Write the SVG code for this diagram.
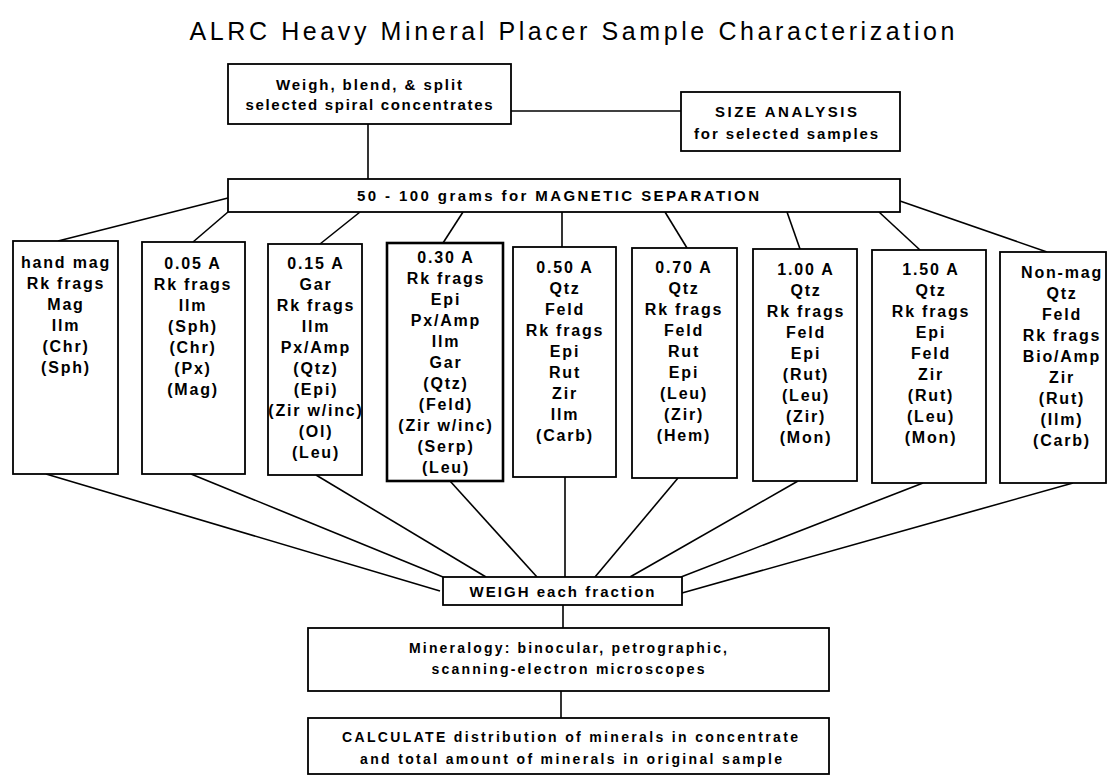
<svg xmlns="http://www.w3.org/2000/svg" width="1107" height="775" viewBox="0 0 1107 775">
<style>
.bx{fill:#fff;stroke:#000;stroke-width:1.8}
.bold{stroke-width:2.6}
.ln{stroke:#000;stroke-width:1.6;fill:none}
text{font-family:"Liberation Sans",Arial,Helvetica,sans-serif;font-weight:bold;fill:#000;text-anchor:middle}
.t{font-size:15px}
.s{font-size:14px}
.f{font-size:16px;letter-spacing:1.8px}
.title{font-size:25px;font-weight:normal}
</style>
<rect width="1107" height="775" fill="#fff"/>
<text class="title" x="572" y="40" textLength="765" lengthAdjust="spacing">ALRC Heavy Mineral Placer Sample Characterization</text>

<g id="connectors">
<line class="ln" x1="511" y1="111" x2="681" y2="111"/>
<line class="ln" x1="368" y1="124" x2="368" y2="179"/>
<line class="ln" x1="228" y1="198" x2="58" y2="241"/>
<line class="ln" x1="228" y1="212" x2="193" y2="242"/>
<line class="ln" x1="360" y1="212" x2="320" y2="244"/>
<line class="ln" x1="463" y1="212" x2="443" y2="243"/>
<line class="ln" x1="562" y1="212" x2="562" y2="247"/>
<line class="ln" x1="665" y1="212" x2="687" y2="248"/>
<line class="ln" x1="787" y1="212" x2="800" y2="249"/>
<line class="ln" x1="879" y1="212" x2="920" y2="250"/>
<line class="ln" x1="900" y1="201" x2="1047" y2="252"/>
<line class="ln" x1="46" y1="474" x2="440" y2="591"/>
<line class="ln" x1="191" y1="474" x2="443" y2="577"/>
<line class="ln" x1="316" y1="475" x2="486" y2="577"/>
<line class="ln" x1="450" y1="481" x2="537" y2="577"/>
<line class="ln" x1="565" y1="477" x2="565" y2="577"/>
<line class="ln" x1="678" y1="478" x2="595" y2="577"/>
<line class="ln" x1="798" y1="481" x2="630" y2="577"/>
<line class="ln" x1="923" y1="483" x2="681" y2="577"/>
<line class="ln" x1="1073" y1="483" x2="682" y2="593"/>
<line class="ln" x1="563" y1="605" x2="563" y2="628"/>
<line class="ln" x1="561" y1="691" x2="561" y2="718"/>
</g>

<g id="weigh-blend">
<rect class="bx" x="228" y="64" width="283" height="60"/>
<text class="t" x="369" y="90" textLength="186" lengthAdjust="spacing">Weigh, blend, &amp; split</text>
<text class="t" x="369" y="110" textLength="247" lengthAdjust="spacing">selected spiral concentrates</text>
</g>

<g id="size-analysis">
<rect class="bx" x="681" y="92" width="219" height="59"/>
<text class="t" x="786" y="117" textLength="142" lengthAdjust="spacing">SIZE ANALYSIS</text>
<text class="t" x="786" y="139" textLength="184" lengthAdjust="spacing">for selected samples</text>
</g>

<g id="magnetic-separation">
<rect class="bx" x="228" y="179" width="672" height="33"/>
<text class="t" x="558" y="201" textLength="402" lengthAdjust="spacing">50 - 100 grams for MAGNETIC SEPARATION</text>
</g>

<g id="hand-mag">
<rect class="bx" x="13" y="241" width="105" height="233"/>
<text class="f" x="66" y="268"><tspan x="66">hand mag</tspan><tspan x="66" dy="21">Rk frags</tspan><tspan x="66" dy="21">Mag</tspan><tspan x="66" dy="21">Ilm</tspan><tspan x="66" dy="21">(Chr)</tspan><tspan x="66" dy="21">(Sph)</tspan></text>
</g>

<g id="a005">
<rect class="bx" x="142" y="242" width="103" height="232"/>
<text class="f" x="193" y="269"><tspan x="193">0.05 A</tspan><tspan x="193" dy="21">Rk frags</tspan><tspan x="193" dy="21">Ilm</tspan><tspan x="193" dy="21">(Sph)</tspan><tspan x="193" dy="21">(Chr)</tspan><tspan x="193" dy="21">(Px)</tspan><tspan x="193" dy="21">(Mag)</tspan></text>
</g>

<g id="a015">
<rect class="bx" x="268" y="244" width="94" height="231"/>
<text class="f" x="316" y="269"><tspan x="316">0.15 A</tspan><tspan x="316" dy="21">Gar</tspan><tspan x="316" dy="21">Rk frags</tspan><tspan x="316" dy="21">Ilm</tspan><tspan x="316" dy="21">Px/Amp</tspan><tspan x="316" dy="21">(Qtz)</tspan><tspan x="316" dy="21">(Epi)</tspan><tspan x="316" dy="21">(Zir w/inc)</tspan><tspan x="316" dy="21">(Ol)</tspan><tspan x="316" dy="21">(Leu)</tspan></text>
</g>

<g id="a030">
<rect class="bx bold" x="387" y="243" width="116" height="238"/>
<text class="f" x="446" y="263"><tspan x="446">0.30 A</tspan><tspan x="446" dy="21">Rk frags</tspan><tspan x="446" dy="21">Epi</tspan><tspan x="446" dy="21">Px/Amp</tspan><tspan x="446" dy="21">Ilm</tspan><tspan x="446" dy="21">Gar</tspan><tspan x="446" dy="21">(Qtz)</tspan><tspan x="446" dy="21">(Feld)</tspan><tspan x="446" dy="21">(Zir w/inc)</tspan><tspan x="446" dy="21">(Serp)</tspan><tspan x="446" dy="21">(Leu)</tspan></text>
</g>

<g id="a050">
<rect class="bx" x="513" y="247" width="103" height="230"/>
<text class="f" x="565" y="273"><tspan x="565">0.50 A</tspan><tspan x="565" dy="21">Qtz</tspan><tspan x="565" dy="21">Feld</tspan><tspan x="565" dy="21">Rk frags</tspan><tspan x="565" dy="21">Epi</tspan><tspan x="565" dy="21">Rut</tspan><tspan x="565" dy="21">Zir</tspan><tspan x="565" dy="21">Ilm</tspan><tspan x="565" dy="21">(Carb)</tspan></text>
</g>

<g id="a070">
<rect class="bx" x="632" y="248" width="105" height="230"/>
<text class="f" x="684" y="273"><tspan x="684">0.70 A</tspan><tspan x="684" dy="21">Qtz</tspan><tspan x="684" dy="21">Rk frags</tspan><tspan x="684" dy="21">Feld</tspan><tspan x="684" dy="21">Rut</tspan><tspan x="684" dy="21">Epi</tspan><tspan x="684" dy="21">(Leu)</tspan><tspan x="684" dy="21">(Zir)</tspan><tspan x="684" dy="21">(Hem)</tspan></text>
</g>

<g id="a100">
<rect class="bx" x="753" y="249" width="104" height="232"/>
<text class="f" x="806" y="275"><tspan x="806">1.00 A</tspan><tspan x="806" dy="21">Qtz</tspan><tspan x="806" dy="21">Rk frags</tspan><tspan x="806" dy="21">Feld</tspan><tspan x="806" dy="21">Epi</tspan><tspan x="806" dy="21">(Rut)</tspan><tspan x="806" dy="21">(Leu)</tspan><tspan x="806" dy="21">(Zir)</tspan><tspan x="806" dy="21">(Mon)</tspan></text>
</g>

<g id="a150">
<rect class="bx" x="872" y="250" width="114" height="233"/>
<text class="f" x="931" y="275"><tspan x="931">1.50 A</tspan><tspan x="931" dy="21">Qtz</tspan><tspan x="931" dy="21">Rk frags</tspan><tspan x="931" dy="21">Epi</tspan><tspan x="931" dy="21">Feld</tspan><tspan x="931" dy="21">Zir</tspan><tspan x="931" dy="21">(Rut)</tspan><tspan x="931" dy="21">(Leu)</tspan><tspan x="931" dy="21">(Mon)</tspan></text>
</g>

<g id="non-mag">
<rect class="bx" x="1000" y="252" width="106" height="231"/>
<text class="f" x="1062" y="278"><tspan x="1062">Non-mag</tspan><tspan x="1062" dy="21">Qtz</tspan><tspan x="1062" dy="21">Feld</tspan><tspan x="1062" dy="21">Rk frags</tspan><tspan x="1062" dy="21">Bio/Amp</tspan><tspan x="1062" dy="21">Zir</tspan><tspan x="1062" dy="21">(Rut)</tspan><tspan x="1062" dy="21">(Ilm)</tspan><tspan x="1062" dy="21">(Carb)</tspan></text>
</g>

<g id="weigh-each">
<rect class="bx" x="443" y="577" width="239" height="28"/>
<text class="t" x="562" y="597" textLength="185" lengthAdjust="spacing">WEIGH each fraction</text>
</g>

<g id="mineralogy">
<rect class="bx" x="308" y="628" width="521" height="63"/>
<text class="s" x="568" y="653" textLength="318" lengthAdjust="spacing">Mineralogy: binocular, petrographic,</text>
<text class="s" x="568" y="674" textLength="273" lengthAdjust="spacing">scanning-electron microscopes</text>
</g>

<g id="calculate">
<rect class="bx" x="308" y="718" width="521" height="56"/>
<text class="s" x="570" y="742" textLength="456" lengthAdjust="spacing">CALCULATE distribution of minerals in concentrate</text>
<text class="s" x="571" y="764" textLength="422" lengthAdjust="spacing">and total amount of minerals in original sample</text>
</g>
</svg>
